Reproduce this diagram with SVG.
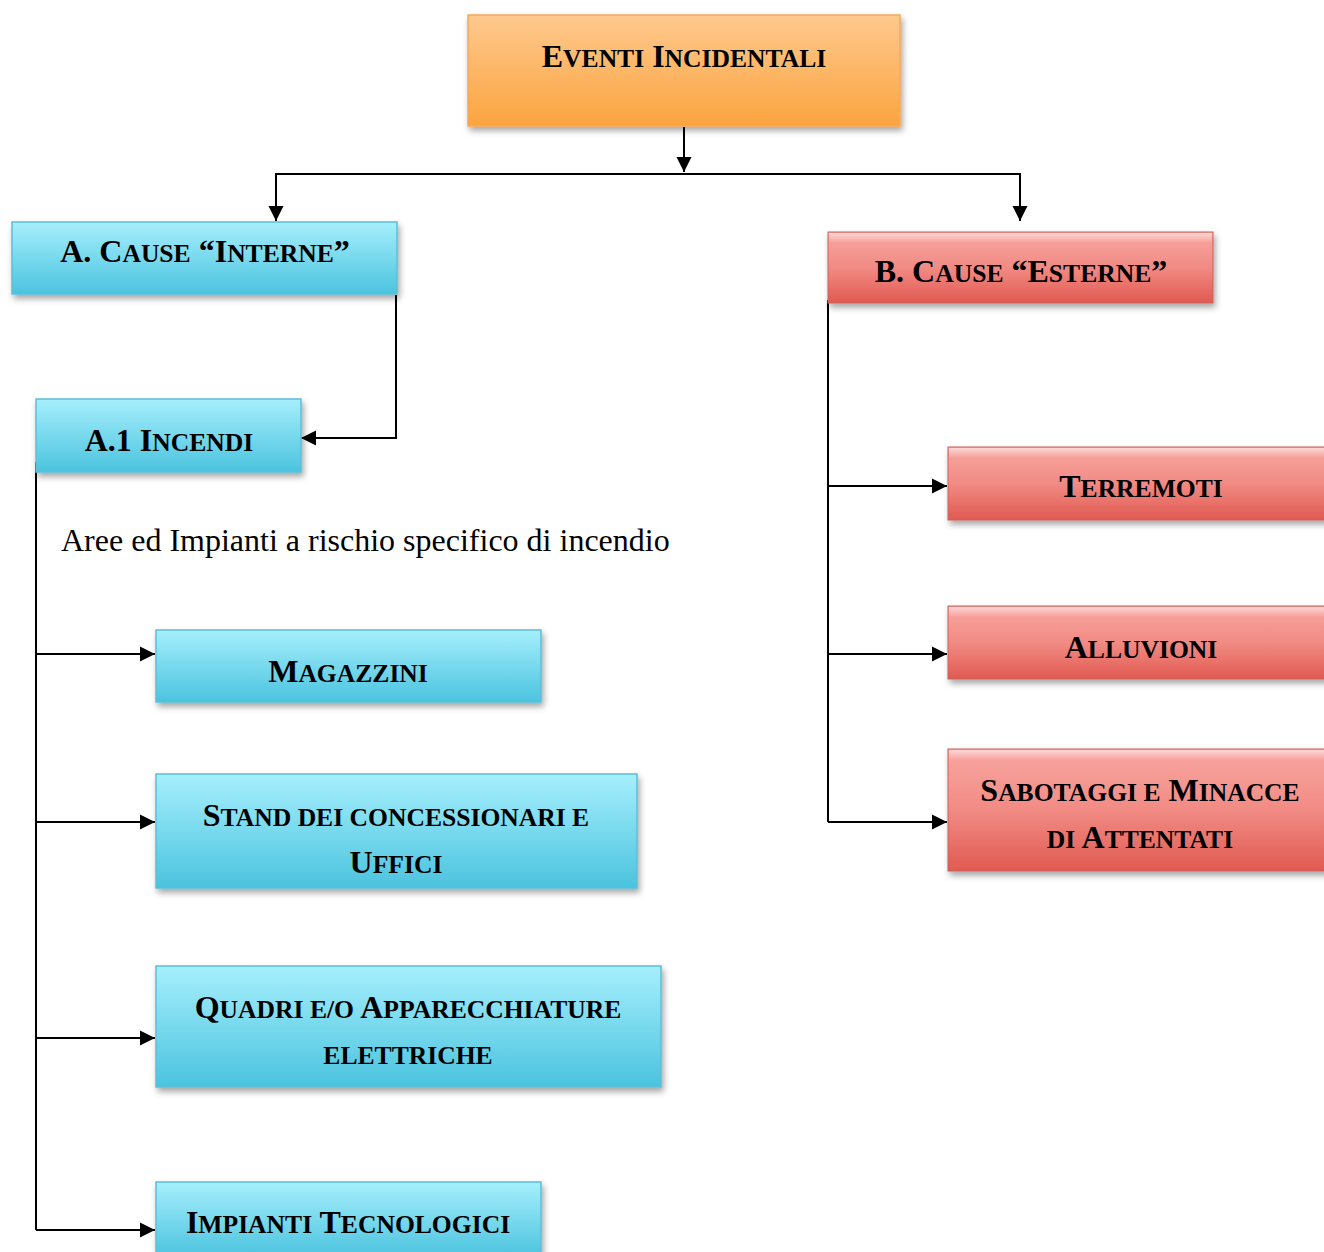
<svg xmlns="http://www.w3.org/2000/svg" width="1324" height="1252" viewBox="0 0 1324 1252">
<style>
text{font-family:"Liberation Serif","Times New Roman",serif;fill:#000}
.t{font-size:32px;font-weight:bold;text-anchor:middle}
.s{font-size:25.6px}
.plain{font-size:32px}
.blue{fill:url(#gBlue);stroke:#5cbfd8;stroke-width:1.5}
.orange{fill:url(#gOrange);stroke:#f6a85a;stroke-width:1.5}
.red{fill:url(#gRed);stroke:#c8605a;stroke-width:1}
.hl{fill:url(#gHl)}
.c{fill:none;stroke:#000;stroke-width:2}
</style>
<defs>
<linearGradient id="gBlue" x1="0" y1="0" x2="0" y2="1"><stop offset="0" stop-color="#a6effc"/><stop offset="1" stop-color="#4bc3df"/></linearGradient>
<linearGradient id="gOrange" x1="0" y1="0" x2="0" y2="1"><stop offset="0" stop-color="#fec98e"/><stop offset="1" stop-color="#fba43f"/></linearGradient>
<linearGradient id="gRed" x1="0" y1="0" x2="0" y2="1"><stop offset="0" stop-color="#f9a6a1"/><stop offset="0.5" stop-color="#f18b84"/><stop offset="1" stop-color="#e05a51"/></linearGradient>
<linearGradient id="gHl" x1="0" y1="0" x2="0" y2="1"><stop offset="0" stop-color="#ffffff" stop-opacity="0.55"/><stop offset="1" stop-color="#ffffff" stop-opacity="0"/></linearGradient>
<filter id="sh" x="-10%" y="-20%" width="125%" height="160%"><feDropShadow dx="2" dy="4" stdDeviation="3" flood-color="#000" flood-opacity="0.35"/></filter>
<marker id="ah" markerUnits="userSpaceOnUse" markerWidth="16" markerHeight="16" refX="15" refY="8" orient="auto"><path d="M0,0.5 L15,8 L0,15.5 z" fill="#000"/></marker>
</defs>

<g id="connectors">
<path class="c" d="M684,127 V172" marker-end="url(#ah)"/>
<path class="c" d="M276,200 V174 H1020 V200"/>
<path class="c" d="M276,200 V221" marker-end="url(#ah)"/>
<path class="c" d="M1020,200 V221" marker-end="url(#ah)"/>
<path class="c" d="M396,295 V438 H301" marker-end="url(#ah)"/>
<path class="c" d="M36,462 V1230"/>
<path class="c" d="M36,654 H155" marker-end="url(#ah)"/>
<path class="c" d="M36,822 H155" marker-end="url(#ah)"/>
<path class="c" d="M36,1038 H155" marker-end="url(#ah)"/>
<path class="c" d="M36,1230 H155" marker-end="url(#ah)"/>
<path class="c" d="M828,300 V822"/>
<path class="c" d="M828,486 H947" marker-end="url(#ah)"/>
<path class="c" d="M828,654 H947" marker-end="url(#ah)"/>
<path class="c" d="M828,822 H947" marker-end="url(#ah)"/>
</g>

<g id="eventi">
<rect class="orange" x="468" y="15" width="432" height="111" filter="url(#sh)"/>
<text class="t" x="684" y="67">E<tspan class="s">VENTI</tspan> I<tspan class="s">NCIDENTALI</tspan></text>
</g>

<g id="cause-interne">
<rect class="blue" x="12" y="222" width="385" height="72" filter="url(#sh)"/>
<text class="t" x="205" y="262">A. C<tspan class="s">AUSE</tspan> “I<tspan class="s">NTERNE</tspan>”</text>
</g>

<g id="incendi">
<rect class="blue" x="36" y="399" width="265" height="73" filter="url(#sh)"/>
<text class="t" x="169" y="451">A.1 I<tspan class="s">NCENDI</tspan></text>
</g>

<text id="aree" class="plain" x="61" y="551">Aree ed Impianti a rischio specifico di incendio</text>

<g id="magazzini">
<rect class="blue" x="156" y="630" width="385" height="72" filter="url(#sh)"/>
<text class="t" x="348" y="682">M<tspan class="s">AGAZZINI</tspan></text>
</g>

<g id="stand">
<rect class="blue" x="156" y="774" width="481" height="114" filter="url(#sh)"/>
<text class="t" x="396" y="826">S<tspan class="s">TAND DEI CONCESSIONARI E</tspan></text>
<text class="t" x="396" y="873">U<tspan class="s">FFICI</tspan></text>
</g>

<g id="quadri">
<rect class="blue" x="156" y="966" width="505" height="121" filter="url(#sh)"/>
<text class="t" x="408" y="1018">Q<tspan class="s">UADRI E/O</tspan> A<tspan class="s">PPARECCHIATURE</tspan></text>
<text class="t" x="408" y="1064"><tspan class="s">ELETTRICHE</tspan></text>
</g>

<g id="impianti">
<rect class="blue" x="156" y="1182" width="385" height="76" filter="url(#sh)"/>
<text class="t" x="348" y="1233">I<tspan class="s">MPIANTI</tspan> T<tspan class="s">ECNOLOGICI</tspan></text>
</g>

<g id="cause-esterne">
<rect class="red" x="828" y="232" width="385" height="71" filter="url(#sh)"/>
<rect class="hl" x="829" y="233" width="383" height="10"/>
<text class="t" x="1021" y="282">B. C<tspan class="s">AUSE</tspan> “E<tspan class="s">STERNE</tspan>”</text>
</g>

<g id="terremoti">
<rect class="red" x="948" y="447" width="390" height="73" filter="url(#sh)"/>
<rect class="hl" x="949" y="448" width="388" height="10"/>
<text class="t" x="1141" y="497">T<tspan class="s">ERREMOTI</tspan></text>
</g>

<g id="alluvioni">
<rect class="red" x="948" y="606" width="390" height="73" filter="url(#sh)"/>
<rect class="hl" x="949" y="607" width="388" height="10"/>
<text class="t" x="1141" y="658">A<tspan class="s">LLUVIONI</tspan></text>
</g>

<g id="sabotaggi">
<rect class="red" x="948" y="749" width="390" height="122" filter="url(#sh)"/>
<rect class="hl" x="949" y="750" width="388" height="10"/>
<text class="t" x="1140" y="801">S<tspan class="s">ABOTAGGI E</tspan> M<tspan class="s">INACCE</tspan></text>
<text class="t" x="1140" y="848"><tspan class="s">DI</tspan> A<tspan class="s">TTENTATI</tspan></text>
</g>
</svg>
